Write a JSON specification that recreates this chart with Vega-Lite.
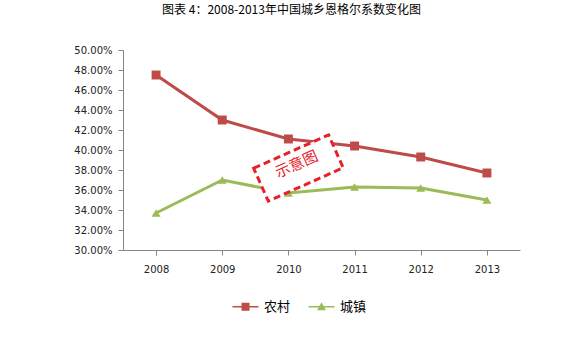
{
  "$schema": "https://vega.github.io/schema/vega-lite/v6.json",
  "width": 397,
  "height": 200,
  "autosize": {"type": "none"},
  "padding": {"left": 123, "top": 50, "right": 62, "bottom": 103},
  "background": "white",
  "title": {"text": "图表 4：2008-2013年中国城乡恩格尔系数变化图", "anchor": "middle", "frame": "group", "dx": -30, "offset": 28, "font": "Noto Sans CJK SC", "fontSize": 12, "fontWeight": "normal", "color": "#000000"},
  "config": {
    "view": {"stroke": null},
    "axis": {"labelFont": "DejaVu Sans", "labelFontSize": 10, "labelColor": "#222222", "domainColor": "#868686", "tickColor": "#868686", "grid": false, "title": null, "labelOverlap": false}
  },
  "datasets": {
    "series": [
      {"year": "2008", "series": "农村", "value": 0.475},
      {"year": "2009", "series": "农村", "value": 0.430},
      {"year": "2010", "series": "农村", "value": 0.411},
      {"year": "2011", "series": "农村", "value": 0.404},
      {"year": "2012", "series": "农村", "value": 0.393},
      {"year": "2013", "series": "农村", "value": 0.377},
      {"year": "2008", "series": "城镇", "value": 0.337},
      {"year": "2009", "series": "城镇", "value": 0.370},
      {"year": "2010", "series": "城镇", "value": 0.357},
      {"year": "2011", "series": "城镇", "value": 0.363},
      {"year": "2012", "series": "城镇", "value": 0.362},
      {"year": "2013", "series": "城镇", "value": 0.350}
    ],
    "stamp": [{"year": "2010", "value": 0.382, "label": "示意图"}]
  },
  "layer": [
    {
      "data": {"name": "series"},
      "mark": {"type": "line", "strokeWidth": 3},
      "encoding": {
        "x": {"field": "year", "type": "ordinal", "scale": {"type": "point", "padding": 0.5}, "axis": {"labelAngle": 0, "labelPadding": 9, "tickSize": 5, "tickBand": "extent", "tickOffset": 0}},
        "y": {"field": "value", "type": "quantitative", "scale": {"domain": [0.3, 0.5], "nice": false, "zero": false}, "axis": {"format": ".2%", "values": [0.3, 0.32, 0.34, 0.36, 0.38, 0.4, 0.42, 0.44, 0.46, 0.48, 0.5], "tickCount": 11, "tickSize": 5, "labelPadding": 6, "labelOverlap": false, "labelFlush": false, "labelBound": false}},
        "color": {"field": "series", "type": "nominal", "scale": {"domain": ["农村", "城镇"], "range": ["#BE4B48", "#9BBB59"]},
          "legend": {"orient": "none", "legendX": 116, "legendY": 250, "direction": "horizontal", "title": null, "labelFont": "Noto Sans CJK SC", "labelFontSize": 13, "labelColor": "#000000", "symbolSize": 100, "labelOffset": 12, "columnPadding": 17, "symbolStrokeWidth": 0, "symbolOpacity": 1,
            "encode": {"symbols": {"update": {"shape": {"signal": "datum.value === '农村' ? 'M-2.6,-0.15H2.6V0.15H-2.6Z M-0.8,-0.8H0.8V0.8H-0.8Z' : 'M-2.6,-0.15H2.6V0.15H-2.6Z M0,-0.9L0.9,0.7H-0.9Z'"}, "fill": {"signal": "datum.value === '农村' ? '#BE4B48' : '#9BBB59'"}, "strokeWidth": {"value": 0}}}}}}
      }
    },
    {
      "data": {"name": "series"},
      "transform": [{"filter": "datum.series === '农村'"}],
      "mark": {"type": "point", "filled": true, "opacity": 1, "size": 80, "shape": "square"},
      "encoding": {
        "x": {"field": "year", "type": "ordinal"},
        "y": {"field": "value", "type": "quantitative"},
        "color": {"field": "series", "type": "nominal"}
      }
    },
    {
      "data": {"name": "series"},
      "transform": [{"filter": "datum.series === '城镇'"}],
      "mark": {"type": "point", "filled": true, "opacity": 1, "size": 80, "shape": "triangle-up"},
      "encoding": {
        "x": {"field": "year", "type": "ordinal"},
        "y": {"field": "value", "type": "quantitative"},
        "color": {"field": "series", "type": "nominal"}
      }
    },
    {
      "data": {"name": "stamp"},
      "mark": {"type": "point", "shape": "M-2.05,-0.9H2.05V0.9H-2.05Z", "size": 1600, "filled": false, "stroke": "#E8202A", "strokeWidth": 3, "strokeDash": [7, 4], "angle": -24, "fill": "white", "fillOpacity": 1, "opacity": 1},
      "encoding": {
        "x": {"field": "year", "type": "ordinal"},
        "y": {"field": "value", "type": "quantitative"},
        "xOffset": {"value": 10}
      }
    },
    {
      "data": {"name": "stamp"},
      "mark": {"type": "text", "font": "Noto Sans CJK SC", "fontSize": 15, "color": "#E8202A", "angle": -24, "dx": 9, "align": "center", "baseline": "middle"},
      "encoding": {
        "x": {"field": "year", "type": "ordinal"},
        "y": {"field": "value", "type": "quantitative"},
        "text": {"field": "label"}
      }
    }
  ]
}
